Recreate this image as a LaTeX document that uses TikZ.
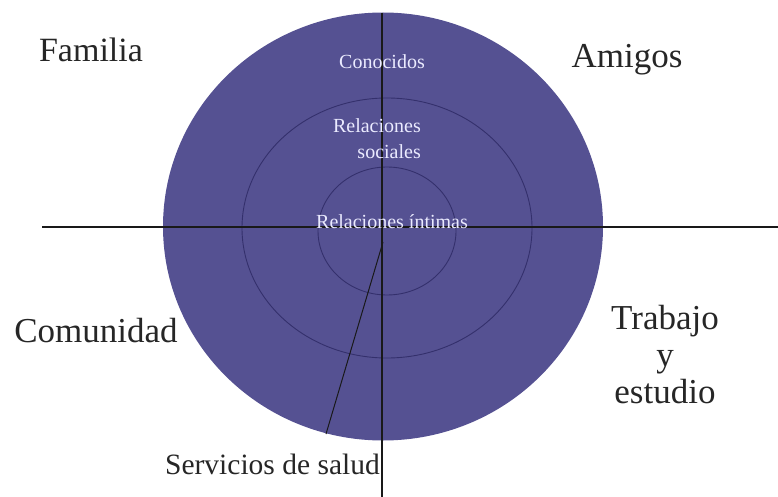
\documentclass[tikz,border=0pt]{standalone}
\usepackage{fontspec}
\setmainfont{Liberation Serif}
\begin{document}
\begin{tikzpicture}[x=1pt,y=-1pt,
  outer/.style={font=\fontsize{35}{37}\selectfont, text=black!85, inner sep=0pt, align=center},
  inlabel/.style={font=\fontsize{20}{26}\selectfont, text=white!90!blue!80!white, inner sep=0pt},
  axis/.style={line width=1.3pt, draw=black!90},
  ring/.style={line width=0.9pt, draw=ringc}
]
\definecolor{disc}{RGB}{85,81,146}
\definecolor{ringc}{RGB}{52,48,108}
\useasboundingbox (0,0) rectangle (778,497);
% disc and rings
\fill[disc] (383,226.5) ellipse [x radius=220, y radius=214];
\draw[ring] (387,228) ellipse [x radius=145, y radius=130];
\draw[ring] (387,231) ellipse [x radius=69, y radius=64];
% axes
\coordinate (hl) at (42,227);
\coordinate (hr) at (778,227);
\coordinate (vt) at (382,13);
\coordinate (vb) at (382,497);
\coordinate (s0) at (383,242);
\coordinate (s1) at (326,434);
\draw[axis] (hl) -- (hr);
\draw[axis] (vt) -- (vb);
\draw[axis, line width=1pt] (s0) -- (s1);
% inner labels
\node[inlabel] (con) at (382,62) {Conocidos};
\node[inlabel, align=right, anchor=east] (soc) at (421,139) {Relaciones\\sociales};
\node[inlabel] (int) at (392,222) {Relaciones íntimas};
% outer labels
\node[outer, font=\fontsize{34}{37}\selectfont] (fam) at (91,50) {Familia};
\node[outer] (ami) at (627,60) {Amigos};
\node[outer] (com) at (96,331) {Comunidad};
\node[outer] (tra) at (665,355) {Trabajo\\y\\estudio};
\node[outer, font=\fontsize{29.5}{32}\selectfont, anchor=east] (ser) at (380,464) {Servicios de salud};
\end{tikzpicture}
\end{document}
